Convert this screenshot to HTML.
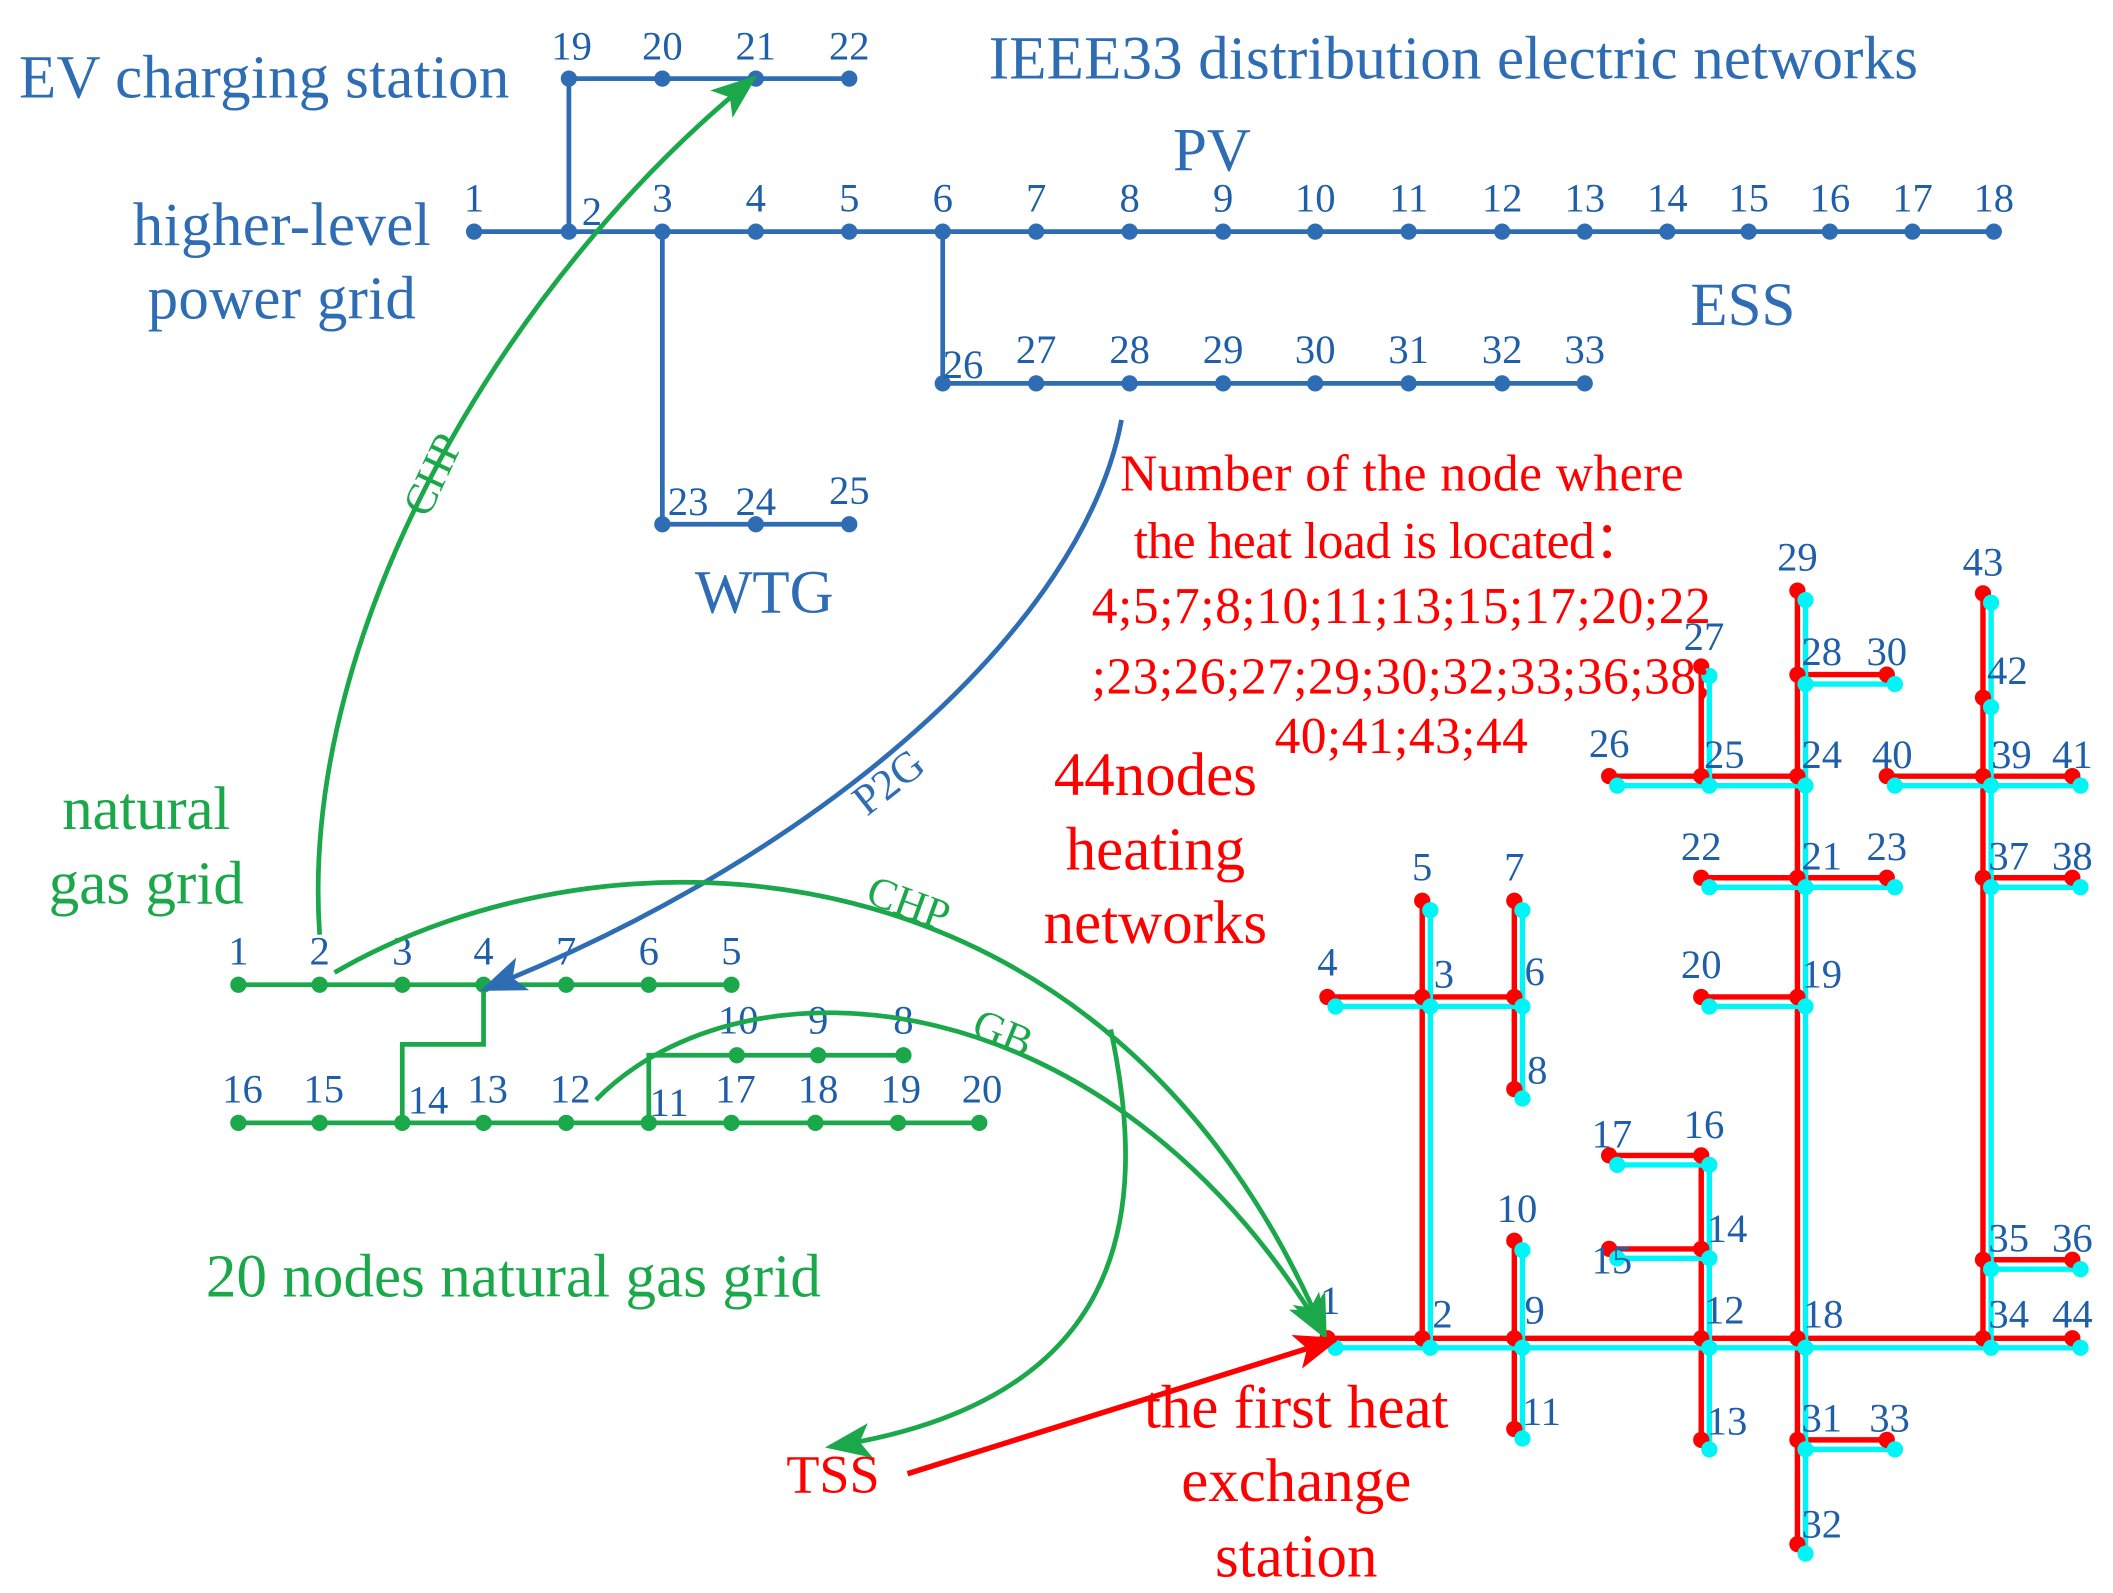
<!DOCTYPE html>
<html><head><meta charset="utf-8"><style>
html,body{margin:0;padding:0;background:#fff;}
svg{display:block;}
text{font-family:"Liberation Serif",serif;}
.b{fill:#2e6db4}.g{fill:#1aa84a}.r{fill:#f00}
.bl{stroke:#2e6db4;stroke-width:3.5;fill:none}
.gl{stroke:#1aa84a;stroke-width:3.5;fill:none}
.rl{stroke:#f00;stroke-width:4;fill:none}
.cl{stroke:#00f6f6;stroke-width:4;fill:none}
.n{font-size:30px;fill:#1f5ea8}
</style></head><body>
<svg width="2113" height="1593" viewBox="0 0 1560 1176" xmlns="http://www.w3.org/2000/svg">
<defs>
<marker id="ag" markerWidth="34" markerHeight="26" refX="30" refY="13" orient="auto" markerUnits="userSpaceOnUse"><path d="M0,0 L34,13 L0,26 L8,13 z" fill="#1aa84a"/></marker>
<marker id="ab" markerWidth="34" markerHeight="26" refX="30" refY="13" orient="auto" markerUnits="userSpaceOnUse"><path d="M0,0 L34,13 L0,26 L8,13 z" fill="#2e6db4"/></marker>
<marker id="ar" markerWidth="34" markerHeight="26" refX="30" refY="13" orient="auto" markerUnits="userSpaceOnUse"><path d="M0,0 L34,13 L0,26 L8,13 z" fill="#f00"/></marker>
</defs>

<!-- Electric network -->
<g class="bl">
<path d="M350,171 H1472"/>
<path d="M420,171 V58 H627"/>
<path d="M489,171 V387 H627"/>
<path d="M696,171 V283 H1170"/>
</g>
<g class="b">
<circle cx="350" cy="171" r="6"/><circle cx="420" cy="171" r="6"/><circle cx="489" cy="171" r="6"/><circle cx="558" cy="171" r="6"/><circle cx="627" cy="171" r="6"/><circle cx="696" cy="171" r="6"/><circle cx="765" cy="171" r="6"/><circle cx="834" cy="171" r="6"/><circle cx="903" cy="171" r="6"/><circle cx="971" cy="171" r="6"/><circle cx="1040" cy="171" r="6"/><circle cx="1109" cy="171" r="6"/><circle cx="1170" cy="171" r="6"/><circle cx="1231" cy="171" r="6"/><circle cx="1291" cy="171" r="6"/><circle cx="1351" cy="171" r="6"/><circle cx="1412" cy="171" r="6"/><circle cx="1472" cy="171" r="6"/>
<circle cx="420" cy="58" r="6"/><circle cx="489" cy="58" r="6"/><circle cx="558" cy="58" r="6"/><circle cx="627" cy="58" r="6"/>
<circle cx="489" cy="387" r="6"/><circle cx="558" cy="387" r="6"/><circle cx="627" cy="387" r="6"/>
<circle cx="696" cy="283" r="6"/><circle cx="765" cy="283" r="6"/><circle cx="834" cy="283" r="6"/><circle cx="903" cy="283" r="6"/><circle cx="971" cy="283" r="6"/><circle cx="1040" cy="283" r="6"/><circle cx="1109" cy="283" r="6"/><circle cx="1170" cy="283" r="6"/>
</g>
<g class="n" text-anchor="middle">
<text x="350" y="156">1</text><text x="437" y="166">2</text><text x="489" y="156">3</text><text x="558" y="156">4</text><text x="627" y="156">5</text><text x="696" y="156">6</text><text x="765" y="156">7</text><text x="834" y="156">8</text><text x="903" y="156">9</text><text x="971" y="156">10</text><text x="1040" y="156">11</text><text x="1109" y="156">12</text><text x="1170" y="156">13</text><text x="1231" y="156">14</text><text x="1291" y="156">15</text><text x="1351" y="156">16</text><text x="1412" y="156">17</text><text x="1472" y="156">18</text>
<text x="422" y="44">19</text><text x="489" y="44">20</text><text x="558" y="44">21</text><text x="627" y="44">22</text>
<text x="508" y="380">23</text><text x="558" y="380">24</text><text x="627" y="372">25</text>
<text x="711" y="279">26</text><text x="765" y="268">27</text><text x="834" y="268">28</text><text x="903" y="268">29</text><text x="971" y="268">30</text><text x="1040" y="268">31</text><text x="1109" y="268">32</text><text x="1170" y="268">33</text>
</g>
<g class="b" font-size="45">
<text x="14" y="72" textLength="362">EV charging station</text>
<text x="730" y="58" textLength="686">IEEE33 distribution electric networks</text>
<text x="866" y="126">PV</text>
<text x="98" y="181" textLength="220">higher-level</text>
<text x="109" y="235" textLength="198">power grid</text>
<text x="1248" y="240">ESS</text>
<text x="513" y="452">WTG</text>
</g>

<!-- Gas network -->
<g class="gl">
<path d="M176,727 H540"/>
<path d="M357,727 V771 H297 V829"/>
<path d="M176,829 H723"/>
<path d="M479,829 V779 H667"/>
</g>
<g class="g">
<circle cx="176" cy="727" r="6"/><circle cx="236" cy="727" r="6"/><circle cx="297" cy="727" r="6"/><circle cx="357" cy="727" r="6"/><circle cx="418" cy="727" r="6"/><circle cx="479" cy="727" r="6"/><circle cx="540" cy="727" r="6"/>
<circle cx="176" cy="829" r="6"/><circle cx="236" cy="829" r="6"/><circle cx="297" cy="829" r="6"/><circle cx="357" cy="829" r="6"/><circle cx="418" cy="829" r="6"/><circle cx="479" cy="829" r="6"/><circle cx="540" cy="829" r="6"/><circle cx="602" cy="829" r="6"/><circle cx="663" cy="829" r="6"/><circle cx="723" cy="829" r="6"/>
<circle cx="544" cy="779" r="6"/><circle cx="604" cy="779" r="6"/><circle cx="667" cy="779" r="6"/>
</g>
<g class="n" text-anchor="middle">
<text x="176" y="712">1</text><text x="236" y="712">2</text><text x="297" y="712">3</text><text x="357" y="712">4</text><text x="418" y="712">7</text><text x="479" y="712">6</text><text x="540" y="712">5</text>
<text x="545" y="763">10</text><text x="604" y="763">9</text><text x="667" y="763">8</text>
<text x="179" y="814">16</text><text x="239" y="814">15</text><text x="316" y="822">14</text><text x="360" y="814">13</text><text x="421" y="814">12</text><text x="494" y="824">11</text><text x="543" y="814">17</text><text x="604" y="814">18</text><text x="665" y="814">19</text><text x="725" y="814">20</text>
</g>
<g class="g" font-size="45">
<text x="46" y="612" textLength="124">natural</text>
<text x="36" y="667" textLength="144">gas grid</text>
<text x="152" y="957" textLength="454">20 nodes natural gas grid</text>
</g>

<!-- Heating network: red -->
<g class="rl">
<path d="M980,988 H1530"/>
<path d="M1050,988 V665"/>
<path d="M980,736 H1118"/>
<path d="M1118,665 V804"/>
<path d="M1118,916 V1055"/>
<path d="M1256,853 V1063"/><path d="M1188,853 H1256"/><path d="M1188,922 H1256"/>
<path d="M1327,436 V1140"/><path d="M1327,498 H1393"/><path d="M1256,648 H1393"/><path d="M1256,736 H1327"/><path d="M1327,1063 H1393"/>
<path d="M1256,492 V573"/><path d="M1188,573 H1327"/>
<path d="M1464,438 V988"/><path d="M1393,573 H1530"/><path d="M1464,648 H1530"/><path d="M1464,930 H1530"/>
</g>
<g class="cl" transform="translate(6,7)">
<path d="M980,988 H1530"/>
<path d="M1050,988 V665"/>
<path d="M980,736 H1118"/>
<path d="M1118,665 V804"/>
<path d="M1118,916 V1055"/>
<path d="M1256,853 V1063"/><path d="M1188,853 H1256"/><path d="M1188,922 H1256"/>
<path d="M1327,436 V1140"/><path d="M1327,498 H1393"/><path d="M1256,648 H1393"/><path d="M1256,736 H1327"/><path d="M1327,1063 H1393"/>
<path d="M1256,492 V573"/><path d="M1188,573 H1327"/>
<path d="M1464,438 V988"/><path d="M1393,573 H1530"/><path d="M1464,648 H1530"/><path d="M1464,930 H1530"/>
</g>
<g fill="#f00">
<circle cx="980" cy="988" r="6"/><circle cx="1050" cy="988" r="6"/><circle cx="1118" cy="988" r="6"/><circle cx="1256" cy="988" r="6"/><circle cx="1327" cy="988" r="6"/><circle cx="1464" cy="988" r="6"/><circle cx="1530" cy="988" r="6"/>
<circle cx="1050" cy="665" r="6"/><circle cx="1050" cy="736" r="6"/><circle cx="980" cy="736" r="6"/><circle cx="1118" cy="736" r="6"/><circle cx="1118" cy="665" r="6"/><circle cx="1118" cy="804" r="6"/>
<circle cx="1118" cy="916" r="6"/><circle cx="1118" cy="1055" r="6"/>
<circle cx="1256" cy="853" r="6"/><circle cx="1256" cy="922" r="6"/><circle cx="1256" cy="1063" r="6"/><circle cx="1188" cy="853" r="6"/><circle cx="1188" cy="922" r="6"/>
<circle cx="1327" cy="436" r="6"/><circle cx="1327" cy="498" r="6"/><circle cx="1393" cy="498" r="6"/><circle cx="1327" cy="573" r="6"/><circle cx="1327" cy="648" r="6"/><circle cx="1256" cy="648" r="6"/><circle cx="1393" cy="648" r="6"/><circle cx="1327" cy="736" r="6"/><circle cx="1256" cy="736" r="6"/><circle cx="1327" cy="1063" r="6"/><circle cx="1393" cy="1063" r="6"/><circle cx="1327" cy="1140" r="6"/>
<circle cx="1256" cy="492" r="6"/><circle cx="1256" cy="573" r="6"/><circle cx="1188" cy="573" r="6"/>
<circle cx="1464" cy="438" r="6"/><circle cx="1464" cy="515" r="6"/><circle cx="1464" cy="573" r="6"/><circle cx="1393" cy="573" r="6"/><circle cx="1530" cy="573" r="6"/><circle cx="1464" cy="648" r="6"/><circle cx="1530" cy="648" r="6"/><circle cx="1464" cy="930" r="6"/><circle cx="1530" cy="930" r="6"/>
</g>
<g fill="#00f6f6" transform="translate(6,7)">
<circle cx="980" cy="988" r="6"/><circle cx="1050" cy="988" r="6"/><circle cx="1118" cy="988" r="6"/><circle cx="1256" cy="988" r="6"/><circle cx="1327" cy="988" r="6"/><circle cx="1464" cy="988" r="6"/><circle cx="1530" cy="988" r="6"/>
<circle cx="1050" cy="665" r="6"/><circle cx="1050" cy="736" r="6"/><circle cx="980" cy="736" r="6"/><circle cx="1118" cy="736" r="6"/><circle cx="1118" cy="665" r="6"/><circle cx="1118" cy="804" r="6"/>
<circle cx="1118" cy="916" r="6"/><circle cx="1118" cy="1055" r="6"/>
<circle cx="1256" cy="853" r="6"/><circle cx="1256" cy="922" r="6"/><circle cx="1256" cy="1063" r="6"/><circle cx="1188" cy="853" r="6"/><circle cx="1188" cy="922" r="6"/>
<circle cx="1327" cy="436" r="6"/><circle cx="1327" cy="498" r="6"/><circle cx="1393" cy="498" r="6"/><circle cx="1327" cy="573" r="6"/><circle cx="1327" cy="648" r="6"/><circle cx="1256" cy="648" r="6"/><circle cx="1393" cy="648" r="6"/><circle cx="1327" cy="736" r="6"/><circle cx="1256" cy="736" r="6"/><circle cx="1327" cy="1063" r="6"/><circle cx="1393" cy="1063" r="6"/><circle cx="1327" cy="1140" r="6"/>
<circle cx="1256" cy="492" r="6"/><circle cx="1256" cy="573" r="6"/><circle cx="1188" cy="573" r="6"/>
<circle cx="1464" cy="438" r="6"/><circle cx="1464" cy="515" r="6"/><circle cx="1464" cy="573" r="6"/><circle cx="1393" cy="573" r="6"/><circle cx="1530" cy="573" r="6"/><circle cx="1464" cy="648" r="6"/><circle cx="1530" cy="648" r="6"/><circle cx="1464" cy="930" r="6"/><circle cx="1530" cy="930" r="6"/>
</g>
<g class="n" text-anchor="middle">
<text x="982" y="970">1</text><text x="1065" y="980">2</text><text x="1133" y="977">9</text><text x="1273" y="977">12</text><text x="1346" y="980">18</text><text x="1483" y="980">34</text><text x="1530" y="980">44</text>
<text x="1050" y="650">5</text><text x="1066" y="729">3</text><text x="980" y="720">4</text><text x="1133" y="727">6</text><text x="1118" y="650">7</text><text x="1135" y="800">8</text>
<text x="1120" y="902">10</text><text x="1138" y="1052">11</text>
<text x="1258" y="840">16</text><text x="1190" y="847">17</text><text x="1275" y="917">14</text><text x="1190" y="940">15</text><text x="1275" y="1059">13</text>
<text x="1327" y="421">29</text><text x="1345" y="491">28</text><text x="1393" y="491">30</text><text x="1345" y="567">24</text><text x="1345" y="642">21</text><text x="1256" y="635">22</text><text x="1393" y="635">23</text><text x="1345" y="729">19</text><text x="1256" y="722">20</text><text x="1345" y="1057">31</text><text x="1395" y="1057">33</text><text x="1345" y="1135">32</text>
<text x="1258" y="480">27</text><text x="1273" y="567">25</text><text x="1188" y="559">26</text>
<text x="1464" y="425">43</text><text x="1482" y="505">42</text><text x="1485" y="567">39</text><text x="1397" y="567">40</text><text x="1530" y="567">41</text><text x="1483" y="642">37</text><text x="1530" y="642">38</text><text x="1483" y="924">35</text><text x="1530" y="924">36</text>
</g>
<g class="r" font-size="38">
<text x="827" y="362" textLength="416">Number of the node where</text>
<text x="837" y="412" textLength="378">the heat load is located：</text>
<text x="806" y="460" textLength="457">4;5;7;8;10;11;13;15;17;20;22</text>
<text x="806" y="512" textLength="457">;23;26;27;29;30;32;33;36;38;</text>
<text x="941" y="556" textLength="187">40;41;43;44</text>
</g>
<g class="r" font-size="45" text-anchor="middle">
<text x="853" y="587">44nodes</text>
<text x="853" y="642">heating</text>
<text x="853" y="696">networks</text>
<text x="957" y="1054">the first heat</text>
<text x="957" y="1108">exchange</text>
<text x="957" y="1164">station</text>
<text x="615" y="1102" font-size="40">TSS</text>
</g>

<!-- Coupling curves -->
<path class="gl" d="M236,690 C220,460 380,200 556,58" marker-end="url(#ag)"/>
<path class="bl" d="M828,310 C800,460 610,630 358,730" marker-end="url(#ab)"/>
<path class="gl" d="M247,718 C450,600 820,610 978,986" marker-end="url(#ag)"/>
<path class="gl" d="M440,812 C550,700 820,720 978,986" marker-end="url(#ag)"/>
<path class="gl" d="M820,760 C850,900 830,1035 613,1068" marker-end="url(#ag)"/>
<path class="rl" d="M670,1088 L986,989" marker-end="url(#ar)"/>
<g font-size="32">
<text class="g" transform="translate(316,383) rotate(-65)">CHP</text>
<text class="b" transform="translate(640,603) rotate(-38)">P2G</text>
<text class="g" transform="translate(638,666) rotate(20)">CHP</text>
<text class="g" transform="translate(716,764) rotate(22)">GB</text>
</g>
</svg>
</body></html>
